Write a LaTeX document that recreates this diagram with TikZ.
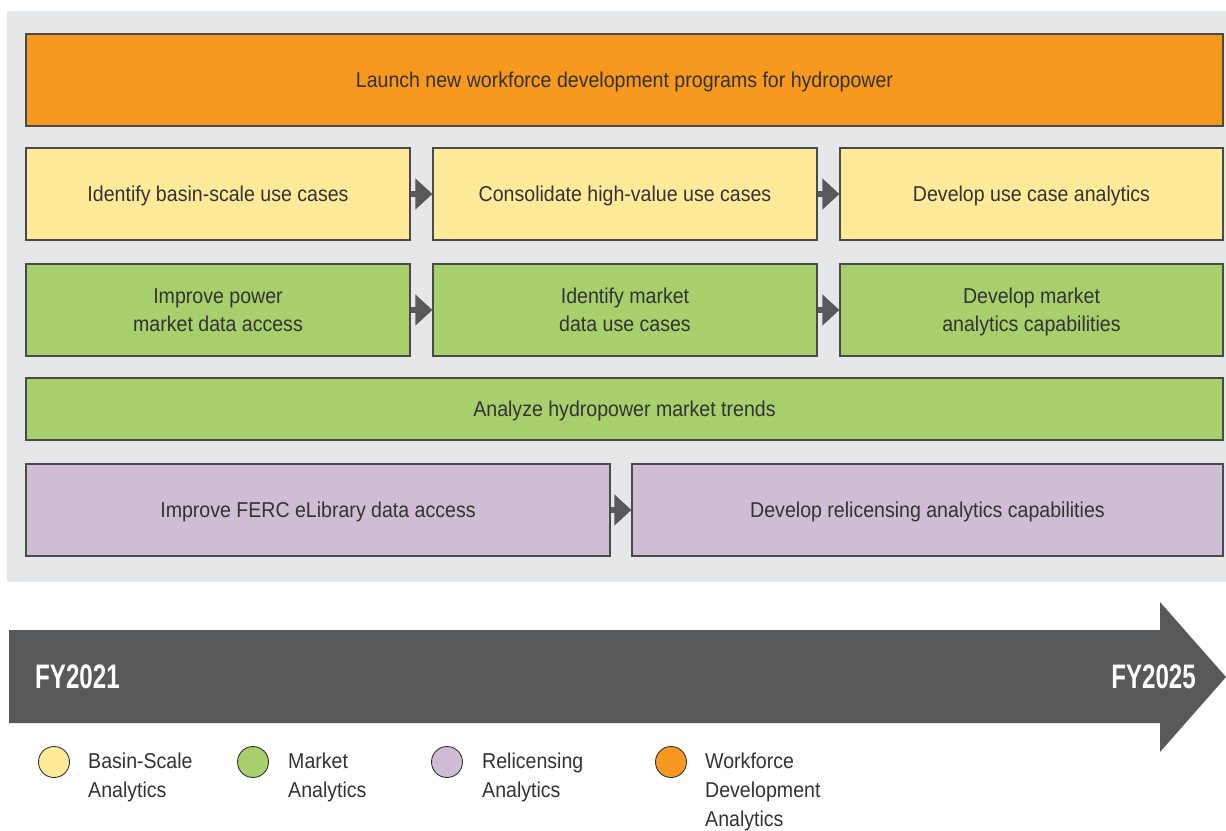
\documentclass[tikz,border=0pt]{standalone}
\usepackage{fontspec}
\setmainfont{Liberation Sans}[FakeStretch=0.91]
\newfontfamily\fyfont{Liberation Sans}[FakeStretch=0.71]
\usetikzlibrary{arrows.meta}
\definecolor{bggray}{HTML}{E6E7E8}
\definecolor{darkarrow}{HTML}{58595B}
\definecolor{boxline}{HTML}{4A4A4A}
\definecolor{txt}{HTML}{333333}
\definecolor{orangeC}{HTML}{F7981F}
\definecolor{yellowC}{HTML}{FFEA9A}
\definecolor{greenC}{HTML}{A7CF6C}
\definecolor{purpleC}{HTML}{CFBCD5}
\tikzset{
  taskbox/.style={draw=boxline, line width=1.1pt, inner sep=2pt, align=center,
    text=txt, text depth=0pt, font=\fontsize{21.5}{28}\selectfont},
  flowarrow/.style={draw=darkarrow, line width=6pt, -{Triangle[length=17pt,width=30pt]}},
  legdot/.style={circle, draw=txt, line width=0.9pt, minimum size=31pt, inner sep=0pt},
  legtext/.style={anchor=north west, inner sep=0pt, align=left, text=txt,
    font=\fontsize{21.5}{29}\selectfont},
  fytext/.style={text=white, inner sep=0pt, font=\fyfont\bfseries\fontsize{34}{34}\selectfont}
}
\begin{document}
\begin{tikzpicture}[x=1pt,y=-1pt]
\useasboundingbox (0,0) rectangle (1226,830);
\fill[white] (0,0) rectangle (1226,830);
% gray panel
\fill[bggray] (7,11) rectangle (1226,582);

% task boxes
\node[taskbox, fill=orangeC, minimum width=1197pt, minimum height=92pt] (wf) at (624.5,80)
  {Launch new workforce development programs for hydropower};

\node[taskbox, fill=yellowC, minimum width=384pt, minimum height=92pt] (b1) at (218,194)
  {Identify basin-scale use cases};
\node[taskbox, fill=yellowC, minimum width=384pt, minimum height=92pt] (b2) at (625,194)
  {Consolidate high-value use cases};
\node[taskbox, fill=yellowC, minimum width=383pt, minimum height=92pt] (b3) at (1031.5,194)
  {Develop use case analytics};

\node[taskbox, fill=greenC, minimum width=384pt, minimum height=92pt] (m1) at (218,310)
  {Improve power\\market data access};
\node[taskbox, fill=greenC, minimum width=384pt, minimum height=92pt] (m2) at (625,310)
  {Identify market\\data use cases};
\node[taskbox, fill=greenC, minimum width=383pt, minimum height=92pt] (m3) at (1031.5,310)
  {Develop market\\analytics capabilities};

\node[taskbox, fill=greenC, minimum width=1197pt, minimum height=62pt] (mt) at (624.5,409)
  {Analyze hydropower market trends};

\node[taskbox, fill=purpleC, minimum width=584pt, minimum height=92pt] (r1) at (318,510)
  {Improve FERC eLibrary data access};
\node[taskbox, fill=purpleC, minimum width=591pt, minimum height=92pt] (r2) at (927.5,510)
  {Develop relicensing analytics capabilities};

% flow arrows
\draw[flowarrow] (b1.east) -- (b2.west);
\draw[flowarrow] (b2.east) -- (b3.west);
\draw[flowarrow] (m1.east) -- (m2.west);
\draw[flowarrow] (m2.east) -- (m3.west);
\draw[flowarrow] (r1.east) -- (r2.west);

% timeline arrow
\fill[darkarrow] (9,630) -- (1160,630) -- (1160,602) -- (1226,677) -- (1160,752)
  -- (1160,723) -- (9,723) -- cycle;
\node[fytext, anchor=west] (fy1) at (35,677) {FY2021};
\node[fytext, anchor=east] (fy2) at (1196,677) {FY2025};

% legend
\node[legdot, fill=yellowC] (l1) at (54,762) {};
\node[legtext] (t1) at (88,753) {Basin-Scale\\Analytics};
\node[legdot, fill=greenC] (l2) at (253,762) {};
\node[legtext] (t2) at (288,753) {Market\\Analytics};
\node[legdot, fill=purpleC] (l3) at (447,762) {};
\node[legtext] (t3) at (482,753) {Relicensing\\Analytics};
\node[legdot, fill=orangeC] (l4) at (671,762) {};
\node[legtext] (t4) at (705,753) {Workforce\\Development\\Analytics};
\end{tikzpicture}
\end{document}
